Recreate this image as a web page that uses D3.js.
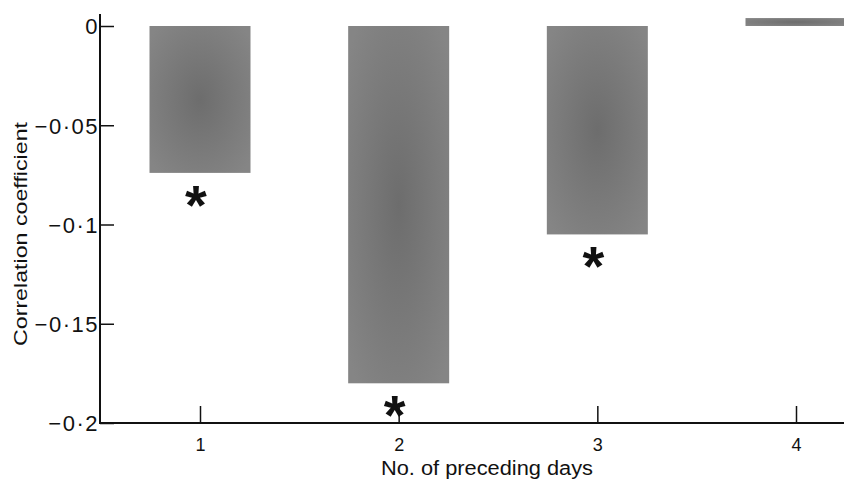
<!DOCTYPE html>
<html lang="en">
<head>
    <meta charset="UTF-8">
    <title>Correlation coefficient by preceding days</title>
    <script src="https://d3js.org/d3.v7.min.js"></script>
    <style>
        body { margin: 0; background: #fff; }
        text { font-family: "Liberation Sans", Arial, sans-serif; fill: #111; }
    </style>
</head>
<body>
    <div id="chart"></div>

    <script>
        // data
        const days = [1, 2, 3, 4];
        const coefficients = [-0.074, -0.18, -0.105, 0.004];
        const significant = [true, true, true, false];
        const yTicks = [0, -0.05, -0.1, -0.15, -0.2];

        const W = 844, H = 483;

        const svg = d3.select("#chart")
                      .append("svg")
                      .attr("width", W)
                      .attr("height", H);

        // soft darker centre like the printed shading
        const grad = svg.append("defs")
                        .append("radialGradient")
                        .attr("id", "shade")
                        .attr("cx", "50%").attr("cy", "50%").attr("r", "65%");
        grad.append("stop").attr("offset", "0%").attr("stop-color", "#6d6d6d");
        grad.append("stop").attr("offset", "100%").attr("stop-color", "#858585");

        const xScale = d3.scaleLinear()
                         .domain([1, 4])
                         .range([200, 796]);

        const yScale = d3.scaleLinear()
                         .domain([-0.2, 0])
                         .range([423, 26]);

        const barWidth = 101;

        // bars
        svg.selectAll("rect.bar")
           .data(days)
           .enter()
           .append("rect")
           .attr("class", "bar")
           .attr("x", d => xScale(d) - barWidth / 2)
           .attr("y", (d, i) => yScale(Math.max(0, coefficients[i])))
           .attr("width", barWidth)
           .attr("height", (d, i) => Math.abs(yScale(coefficients[i]) - yScale(0)))
           .attr("fill", "url(#shade)");

        // significance stars under the bars
        svg.selectAll("text.star")
           .data(days.filter((d, i) => significant[i]))
           .enter()
           .append("text")
           .attr("class", "star")
           .attr("x", d => xScale(d) - 4)
           .attr("y", d => yScale(coefficients[days.indexOf(d)]) + 51)
           .attr("text-anchor", "middle")
           .style("font-size", "56px")
           .style("font-weight", "bold")
           .text("*");

        const fmt = v => v === 0 ? "0" : "\u2212" + String(Math.abs(v)).replace(".", "\u00b7");

        // y axis (ticks pointing inwards)
        const yAxis = d3.axisRight(yScale)
                        .tickValues(yTicks)
                        .tickSize(14)
                        .tickFormat("");
        const gy = svg.append("g")
                      .attr("transform", "translate(100,0)")
                      .call(yAxis);
        gy.select(".domain").remove();
        gy.selectAll(".tick text").remove();
        gy.selectAll(".tick line").attr("stroke", "#111").attr("stroke-width", 1.5);
        gy.append("line")
          .attr("x1", 0).attr("x2", 0)
          .attr("y1", 14).attr("y2", yScale(-0.2) + 1)
          .attr("stroke", "#111").attr("stroke-width", 2);
        gy.selectAll(".tick")
          .append("text")
          .attr("x", -1)
          .attr("dy", "0.36em")
          .attr("text-anchor", "end")
          .style("font-size", "22px")
          .style("letter-spacing", "1.5px")
          .attr("fill", "#111")
          .text(d => fmt(d));

        // x axis (ticks pointing upwards)
        const xAxis = d3.axisTop(xScale)
                        .tickValues(days)
                        .tickSize(17)
                        .tickFormat("");
        const gx = svg.append("g")
                      .attr("transform", `translate(0,${yScale(-0.2)})`)
                      .call(xAxis);
        gx.select(".domain").remove();
        gx.selectAll(".tick text").remove();
        gx.selectAll(".tick line").attr("stroke", "#111").attr("stroke-width", 1.5);
        gx.append("line")
          .attr("x1", 99).attr("x2", W)
          .attr("y1", 0).attr("y2", 0)
          .attr("stroke", "#111").attr("stroke-width", 2);
        gx.selectAll(".tick")
          .append("text")
          .attr("y", 28)
          .attr("text-anchor", "middle")
          .style("font-size", "18px")
          .attr("fill", "#111")
          .text(d => d);

        // axis titles
        svg.append("text")
           .attr("x", 487)
           .attr("y", 475)
           .attr("text-anchor", "middle")
           .attr("textLength", 212)
           .attr("lengthAdjust", "spacingAndGlyphs")
           .style("font-size", "20px")
           .text("No. of preceding days");

        svg.append("text")
           .attr("transform", "translate(27,234) rotate(-90)")
           .attr("text-anchor", "middle")
           .attr("textLength", 224)
           .attr("lengthAdjust", "spacingAndGlyphs")
           .style("font-size", "19px")
           .text("Correlation coefficient");
    </script>
</body>
</html>
